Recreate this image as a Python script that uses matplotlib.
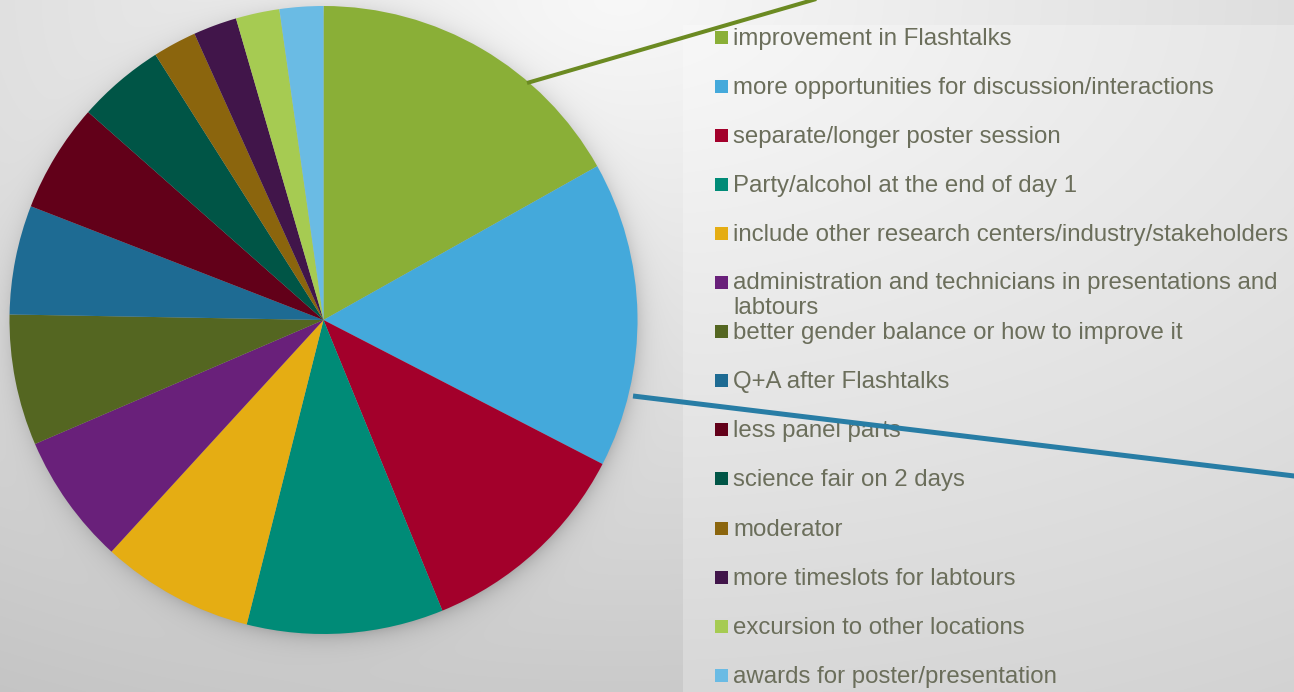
import numpy as np
import matplotlib
matplotlib.use("Agg")
import matplotlib.pyplot as plt
from matplotlib.patches import Rectangle

labels = [
    "improvement in Flashtalks",
    "more opportunities for discussion/interactions",
    "separate/longer poster session",
    "Party/alcohol at the end of day 1",
    "include other research centers/industry/stakeholders",
    "administration and technicians in presentations and\nlabtours",
    "better gender balance or how to improve it",
    "Q+A after Flashtalks",
    "less panel parts",
    "science fair on 2 days",
    "moderator",
    "more timeslots for labtours",
    "excursion to other locations",
    "awards for poster/presentation",
]
values = [15, 14, 10, 9, 7, 6, 6, 5, 5, 4, 2, 2, 2, 2]
colors = ["#8AAF37", "#44A9DB", "#A3002B", "#008B77", "#E5AD13", "#69207A",
          "#546621", "#1E6B93", "#620019", "#005546", "#8B650D", "#41154A",
          "#A6CB52", "#6ABBE4"]

W, H = 1294, 692
DPI = 100
fig = plt.figure(figsize=(W / DPI, H / DPI), dpi=DPI)

# ---- background axes (pixel coordinates, y down) ----
bg = fig.add_axes([0, 0, 1, 1])
bg.set_xlim(0, W)
bg.set_ylim(H, 0)
bg.axis("off")

yy, xx = np.mgrid[0:H, 0:W].astype(float)
d = np.sqrt((xx - 620) ** 2 + (1.74 * yy) ** 2)
val = np.clip(248 - 0.038 * d, 195, 255) / 255.0
# legend panel (slightly lighter)
panel = (xx >= 683) & (yy >= 25)
val = np.where(panel, val + (1 - val) * 0.25, val)
# soft drop shadow of pie
cx, cy, r = 323.5, 320.0, 314.0
ds = np.sqrt((xx - cx - 2) ** 2 + (yy - cy - 4) ** 2) - r
shadow = np.where(ds > -6, 0.2 * np.exp(-np.clip(ds + 6, 0, None) / 10.0), 0.2)
val = val * (1 - shadow)
img = np.dstack([val, val, val])
bg.imshow(img, extent=[0, W, H, 0], interpolation="bilinear", zorder=0)

# ---- pie axes ----
pax = fig.add_axes([(cx - r) / W, (H - cy - r) / H, 2 * r / W, 2 * r / H])
pax.pie(values, colors=colors, startangle=90, counterclock=False, radius=1,
        wedgeprops=dict(linewidth=0))
pax.set_xlim(-1, 1)
pax.set_ylim(-1, 1)
pax.set_aspect("equal")
pax.axis("off")

# ---- overlay axes: legend + decorative lines ----
ov = fig.add_axes([0, 0, 1, 1])
ov.set_xlim(0, W)
ov.set_ylim(H, 0)
ov.axis("off")
ov.patch.set_alpha(0)

y0, step = 37.0, 49.1
for i, (lab, col) in enumerate(zip(labels, colors)):
    yc = y0 + i * step
    ov.add_patch(Rectangle((715, yc - 6.5), 13, 13, facecolor=col, edgecolor="none", zorder=3))
    if "\n" in lab:
        ov.text(733, yc + 7.5 - 18, lab, fontsize=17.25, family="Liberation Sans",
                color="#6B6E5B", va="top", ha="left", zorder=3, linespacing=1.2)
    else:
        ov.text(733, yc + 7.5, lab, fontsize=17.25, family="Liberation Sans",
                color="#6B6E5B", va="baseline", ha="left", zorder=3)

ov.plot([527, 830], [83, -5], color="#6B8A22", linewidth=2.9, solid_capstyle="butt", zorder=4)
ov.plot([633, 1300], [396, 476.7], color="#287DA5", linewidth=3.6, solid_capstyle="butt", zorder=4)

fig.savefig("out.png", dpi=DPI)
